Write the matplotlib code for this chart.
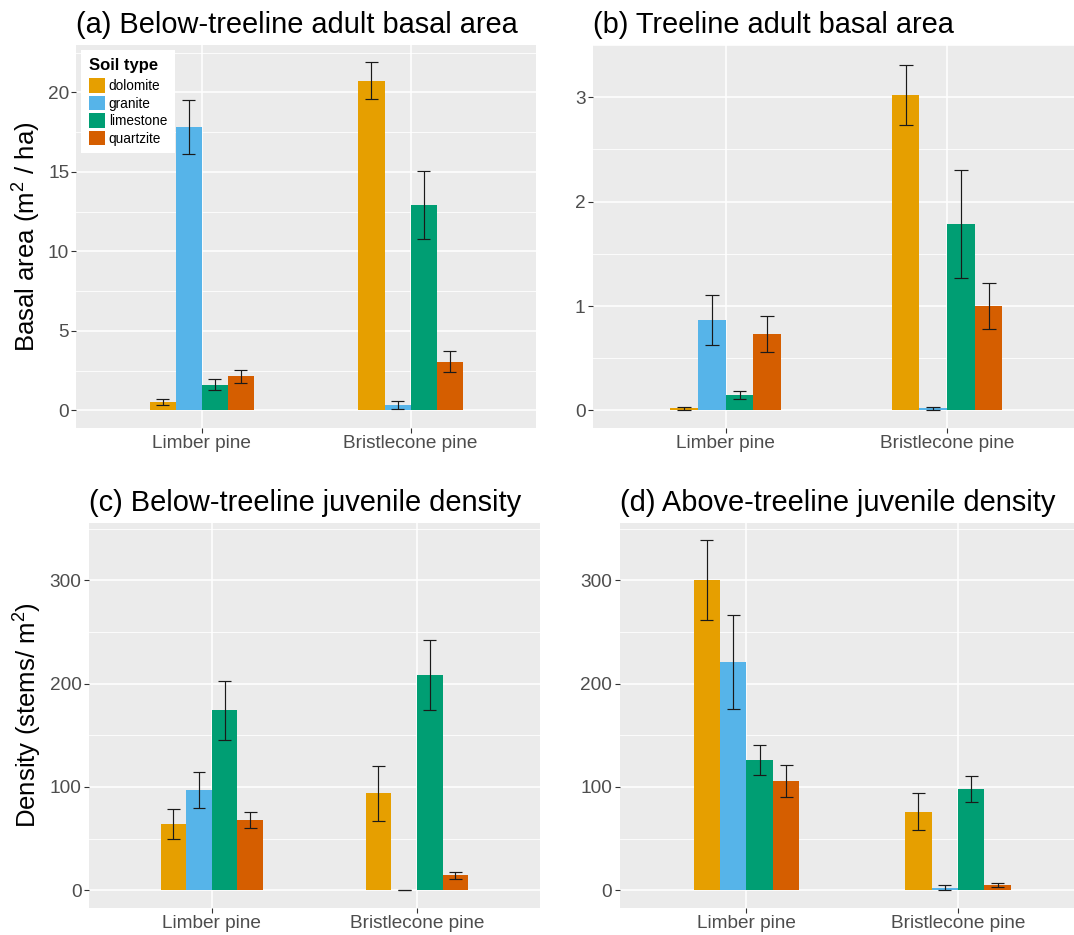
import numpy as np
import matplotlib
matplotlib.use("Agg")
import matplotlib.pyplot as plt
from matplotlib.patches import Patch

plt.rcParams["font.family"] = ["Liberation Sans", "DejaVu Sans"]
plt.rcParams["mathtext.fontset"] = "custom"
plt.rcParams["mathtext.rm"] = "Liberation Sans"
plt.rcParams["mathtext.it"] = "Liberation Sans:italic"
plt.rcParams["mathtext.bf"] = "Liberation Sans:bold"

# ---- data -------------------------------------------------------------
species = ["Limber pine", "Bristlecone pine"]
soils = ["dolomite", "granite", "limestone", "quartzite"]
soil_colors = ["#E69F00", "#56B4E9", "#009E73", "#D55E00"]

# rows: species, columns: soil type
below_adult_mean = [[0.53, 17.8, 1.62, 2.13], [20.73, 0.36, 12.9, 3.07]]
below_adult_se = [[0.18, 1.70, 0.32, 0.41], [1.16, 0.25, 2.14, 0.64]]

treeline_adult_mean = [[0.02, 0.87, 0.15, 0.73], [3.02, 0.02, 1.785, 1.00]]
treeline_adult_se = [[0.015, 0.24, 0.04, 0.17], [0.29, 0.015, 0.52, 0.22]]

below_juv_mean = [[64.4, 96.9, 174.3, 68.0], [94.0, 0.0, 208.4, 14.3]]
below_juv_se = [[14.6, 17.3, 28.6, 8.1], [26.7, 0.0, 34.0, 3.3]]

above_juv_mean = [[300.0, 221.4, 125.8, 106.0], [76.1, 2.6, 97.9, 5.2]]
above_juv_se = [[38.7, 45.5, 14.5, 15.4], [17.9, 2.5, 12.4, 1.8]]

titles = ["(a) Below-treeline adult basal area",
          "(b) Treeline adult basal area",
          "(c) Below-treeline juvenile density",
          "(d) Above-treeline juvenile density"]

# ---- figure -----------------------------------------------------------
W, H = 1074, 935
fig = plt.figure(figsize=(W / 100, H / 100), dpi=100)
fig.patch.set_facecolor("white")


def px_rect(left, right, top, bottom):
    return [left / W, 1 - bottom / H, (right - left) / W, (bottom - top) / H]


ax_a = fig.add_axes(px_rect(76.4, 536, 45, 427.7))
ax_b = fig.add_axes(px_rect(592.8, 1080, 45, 427.7))
ax_c = fig.add_axes(px_rect(88.8, 540, 523, 907.7))
ax_d = fig.add_axes(px_rect(619.5, 1085, 523, 907.7))

BAR_W = 0.125
DODGE = 0.5
TICK_COL = "#4D4D4D"


def draw_panel(ax, mean, se, title, ylim, major, minor):
    mean = np.asarray(mean, float)
    se = np.asarray(se, float)
    ax.set_facecolor("#EBEBEB")
    for s in ax.spines.values():
        s.set_visible(False)
    ax.set_axisbelow(True)
    for i in range(len(species)):
        for j in range(len(soils)):
            x = (i + 1) - DODGE / 2 + BAR_W * (j + 0.5)
            ax.bar(x, mean[i, j], width=BAR_W, color=soil_colors[j],
                   linewidth=0, zorder=2)
            lo, hi = mean[i, j] - se[i, j], mean[i, j] + se[i, j]
            ax.vlines(x, lo, hi, color="#1a1a1a", lw=0.85, zorder=3)
            ax.hlines([lo, hi], x - BAR_W / 4, x + BAR_W / 4,
                      color="#1a1a1a", lw=0.85, zorder=3)
    ax.set_xlim(0.4, 2.6)
    ax.set_ylim(*ylim)
    ax.set_xticks([1, 2])
    ax.set_xticklabels(species)
    ax.set_yticks(major)
    ax.set_yticks(minor, minor=True)
    ax.grid(True, which="major", color="white", lw=1.15)
    ax.grid(True, which="minor", axis="y", color="white", lw=0.6)
    ax.tick_params(which="major", length=3.4, width=0.8, color="#333333",
                   labelcolor=TICK_COL, labelsize=13.7, pad=1.8)
    ax.tick_params(which="minor", length=0)
    ax.set_title(title, loc="left", fontsize=20.9, pad=8.5, color="black")


def expanded(mean, se, top=None):
    r = top if top is not None else float(np.max(np.asarray(mean) + np.asarray(se)))
    return (-0.05 * r, 1.05 * r)


draw_panel(ax_a, below_adult_mean, below_adult_se, titles[0],
           expanded(below_adult_mean, below_adult_se),
           [0, 5, 10, 15, 20], [2.5, 7.5, 12.5, 17.5, 22.5])
draw_panel(ax_b, treeline_adult_mean, treeline_adult_se, titles[1],
           expanded(treeline_adult_mean, treeline_adult_se),
           [0, 1, 2, 3], [0.5, 1.5, 2.5, 3.5])
juv_top = float(max(np.max(np.add(below_juv_mean, below_juv_se)),
                    np.max(np.add(above_juv_mean, above_juv_se))))
draw_panel(ax_c, below_juv_mean, below_juv_se, titles[2],
           expanded(None, None, juv_top),
           [0, 100, 200, 300], [50, 150, 250, 350])
draw_panel(ax_d, above_juv_mean, above_juv_se, titles[3],
           expanded(None, None, juv_top),
           [0, 100, 200, 300], [50, 150, 250, 350])

# y-axis titles
fig.text(36 / W, 1 - 236.4 / H, r"Basal area (m$^2$ / ha)", rotation=90,
         rotation_mode="anchor", ha="center", va="baseline", fontsize=18.5)
fig.text(37 / W, 1 - 715.4 / H, r"Density (stems/ m$^2$)", rotation=90,
         rotation_mode="anchor", ha="center", va="baseline", fontsize=18.5)

# legend
handles = [Patch(facecolor=c, edgecolor="none", label=s)
           for c, s in zip(soil_colors, soils)]
leg = ax_a.legend(handles=handles, title="Soil type", loc="upper left",
                  bbox_to_anchor=(0, 1), borderaxespad=0.37, fontsize=9.8,
                  title_fontproperties={"weight": "bold", "size": 12},
                  handlelength=1.15, handleheight=1.27, handletextpad=0.3,
                  labelspacing=0.2, borderpad=0.55, fancybox=False,
                  frameon=True, alignment="left")
leg._legend_box.sep = 4.0
leg.get_frame().set_facecolor("white")
leg.get_frame().set_edgecolor("none")
leg.get_frame().set_alpha(1)

fig.savefig("out.png", dpi=100)
